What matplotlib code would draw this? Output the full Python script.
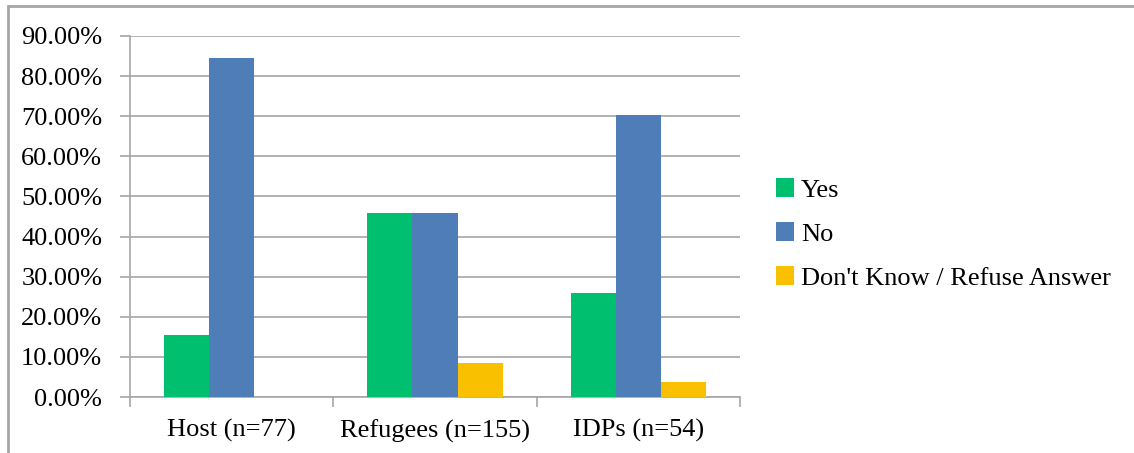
import numpy as np
import matplotlib
matplotlib.use('Agg')
import matplotlib.pyplot as plt
from matplotlib.patches import Rectangle
from matplotlib.ticker import FuncFormatter

# dados
grupos = ['Host (n=77)', 'Refugees (n=155)', 'IDPs (n=54)']
series = ['Yes', 'No', "Don't Know / Refuse Answer"]
sim = [15.58, 45.81, 25.93]
nao = [84.42, 45.81, 70.37]
nao_sabe = [0.0, 8.39, 3.70]
cores = ['#00BF6F', '#4F7DB8', '#F9C000']

plt.rcParams['font.family'] = ['Liberation Serif', 'DejaVu Serif']
fs = 19

W, H = 1134, 453
fig = plt.figure(figsize=(W / 100, H / 100), dpi=100)
ax = fig.add_axes([130 / W, 1 - 397 / H, (740 - 130) / W, (397 - 36) / H])

x = np.arange(len(grupos))
larg = 0.222
for i, (vals, nome) in enumerate(zip([sim, nao, nao_sabe], series)):
    ax.bar(x + (i - 1) * larg, vals, larg, color=cores[i], label=nome, zorder=3)

cinza = '#A6A6A6'
ax.set_ylim(0, 90)
ax.set_xlim(-0.5, 2.5)
ax.set_yticks(np.arange(0, 91, 10))
ax.yaxis.set_major_formatter(FuncFormatter(lambda v, p: f'{v:.2f}%'))
ax.set_xticks(x)
ax.set_xticklabels(grupos)
ax.set_xticks([-0.5, 0.5, 1.5, 2.5], minor=True)
ax.tick_params(axis='x', which='major', length=0, pad=16, labelsize=fs)
ax.tick_params(axis='x', which='minor', length=7, color=cinza, width=1.2)
ax.tick_params(axis='y', length=7, color=cinza, width=1.2, labelsize=fs, pad=13)
ax.grid(True, axis='y', color=cinza, linewidth=1.2, zorder=0)
for s in ['top', 'right']:
    ax.spines[s].set_visible(False)
for s in ['left', 'bottom']:
    ax.spines[s].set_color(cinza)
    ax.spines[s].set_linewidth(1.2)

ax.legend(loc='center left', bbox_to_anchor=(776 / W, 1 - 234 / H),
          bbox_transform=fig.transFigure, frameon=False, fontsize=fs,
          handlelength=0.7, handleheight=0.7, handletextpad=0.25,
          labelspacing=0.78, borderaxespad=0, borderpad=0)

# moldura do gráfico
fig.add_artist(Rectangle((7.5 / W, -0.05), 1.2, 1 - 6.5 / H + 0.05,
                         transform=fig.transFigure, fill=False,
                         edgecolor=cinza, linewidth=2))

fig.savefig('out.png', dpi=100)
